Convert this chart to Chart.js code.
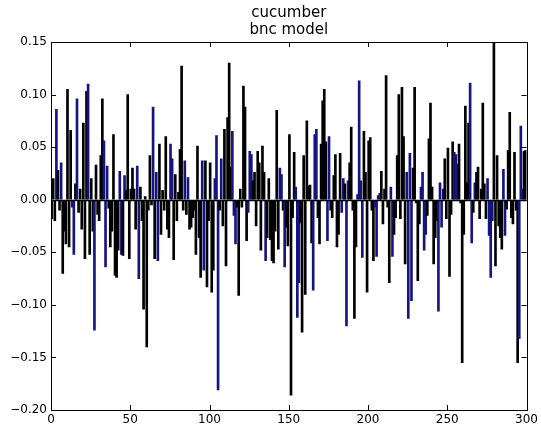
<!DOCTYPE html>
<html>
<head>
<meta charset="utf-8">
<script src="https://cdn.jsdelivr.net/npm/chart.js@4"></script>
<style>
  body { margin: 0; background: #fff; }
  canvas { display: block; }
</style>
</head>
<body>
<canvas id="chart-canvas" width="541" height="427"></canvas>
<script>
// bar values, one per index 0..299
var values = [
  -0.018, 0.02, -0.02, 0.086, 0.028, -0.01, 0.035, -0.07, -0.03, -0.042,
  0.105, -0.045, 0.066, -0.007, -0.052, 0.015, 0.096, -0.012, 0.01, -0.028,
  0.073, -0.056, 0.103, 0.11, -0.052, 0.02, -0.03, -0.124, 0.033, -0.014,
  -0.02, 0.042, 0.096, 0.056, -0.064, 0.032, -0.008, -0.045, -0.03, 0.062,
  -0.072, -0.074, -0.048, 0.027, -0.052, -0.053, 0.023, 0.009, 0.1, -0.056,
  0.01, 0.03, 0.01, -0.028, 0.032, -0.075, 0.012, -0.02, -0.104, 0.003,
  -0.14, -0.01, 0.042, -0.005, 0.088, -0.056, 0.026, -0.058, 0.053, -0.033,
  0.009, -0.01, 0.06, -0.028, -0.036, 0.053, 0.039, -0.057, 0.024, -0.02,
  0.007, 0.048, 0.127, -0.01, 0.037, -0.014, 0.021, -0.028, -0.026, -0.017,
  -0.01, -0.052, 0.051, -0.036, -0.074, 0.037, -0.067, 0.037, -0.083, -0.02,
  0.035, -0.088, -0.067, 0.02, 0.061, -0.181, -0.01, 0.039, -0.025, 0.067,
  -0.063, 0.078, 0.13, 0.031, 0.065, -0.015, -0.042, -0.007, -0.091, 0.01,
  -0.007, 0.108, 0.088, -0.039, -0.012, 0.046, 0.043, 0.018, 0.026, -0.025,
  0.046, 0.035, -0.048, 0.051, 0.026, -0.058, -0.036, 0.02, -0.038, -0.058,
  -0.06, -0.03, 0.085, -0.047, 0.03, 0.024, -0.01, -0.064, -0.026, -0.044,
  0.062, -0.186, -0.017, 0.045, 0.012, -0.112, -0.079, -0.022, -0.126, 0.042,
  -0.09, 0.075, 0.013, 0.014, -0.041, -0.086, 0.062, 0.067, -0.017, -0.042,
  0.053, 0.094, 0.105, 0.055, -0.039, 0.06, -0.01, -0.017, 0.023, 0.043,
  -0.045, -0.033, 0.044, -0.012, 0.02, 0.015, -0.12, 0.018, 0.035, 0.069,
  -0.01, -0.113, -0.045, 0.005, 0.113, 0.018, -0.055, 0.065, 0.026, -0.088,
  0.056, 0.059, -0.01, -0.058, -0.007, -0.054, 0.004, 0.006, 0.027, -0.023,
  0.01, 0.118, -0.007, -0.079, 0.012, -0.054, -0.033, -0.017, 0.042, 0.1,
  -0.018, 0.107, 0.06, -0.061, 0.026, -0.113, 0.044, -0.096, 0.03, 0.107,
  -0.003, -0.077, -0.023, 0.012, 0.026, -0.048, -0.033, -0.015, 0.058, 0.092,
  0.012, -0.061, -0.036, -0.02, -0.106, 0.016, -0.026, 0.01, 0.039, -0.018,
  0.049, -0.073, -0.014, 0.055, 0.045, 0.043, 0.034, 0.053, -0.003, -0.155,
  -0.033, 0.089, 0.016, 0.073, 0.111, -0.041, -0.012, 0.016, 0.026, 0.031,
  -0.018, 0.01, 0.092, 0.015, -0.018, 0.02, -0.034, -0.074, -0.02, 0.16,
  -0.063, 0.042, -0.025, -0.036, -0.047, 0.029, -0.034, -0.009, 0.047, 0.083,
  -0.017, -0.023, 0.045, -0.01, -0.155, -0.132, 0.07, 0.01, 0.046, 0.047
];

// indices drawn in blue in the reference
var blueIndex = [3, 6, 13, 14, 16, 23, 27, 33, 34, 35, 43, 44, 46, 54, 55, 64, 66, 67,
  75, 76, 84, 86, 95, 96, 103, 104, 105, 107, 114, 115, 116, 124, 125, 126, 135,
  144, 145, 147, 154, 155, 156, 165, 166, 167, 174, 175, 183, 184, 186, 187,
  193, 194, 195, 196, 204, 205, 206, 207, 214, 215, 224, 225, 226, 227,
  233, 234, 235, 236, 244, 245, 246, 247, 254, 255, 256, 264, 265, 267,
  275, 276, 277, 278, 285, 286, 295, 296, 297];

var titleLines = ["cucumber", "bnc model"];
var yTicks = [-0.20, -0.15, -0.10, -0.05, 0.00, 0.05, 0.10, 0.15];
var xTicks = [0, 50, 100, 150, 200, 250, 300];

var FONT = "'DejaVu Sans', sans-serif";

// matplotlib style frame: box on all sides, ticks pointing inward, zero line
var framePlugin = {
  id: 'frame',
  afterDatasetsDraw: function(chart) {
    var ctx = chart.ctx, a = chart.chartArea;
    var xs = chart.scales.x, ys = chart.scales.y;
    ctx.save();
    ctx.strokeStyle = '#000';
    ctx.lineWidth = 1.5;
    var y0 = Math.round(ys.getPixelForValue(0)) + 0.5;
    ctx.beginPath();
    ctx.moveTo(a.left, y0);
    ctx.lineTo(a.right, y0);
    ctx.stroke();

    ctx.lineWidth = 1;
    ctx.beginPath();
    yTicks.forEach(function(t) {
      var y = Math.round(ys.getPixelForValue(t)) + 0.5;
      ctx.moveTo(a.left, y); ctx.lineTo(a.left + 5, y);
      ctx.moveTo(a.right, y); ctx.lineTo(a.right - 5, y);
    });
    xTicks.forEach(function(t) {
      var x = Math.round(xs.getPixelForValue(t)) + 0.5;
      ctx.moveTo(x, a.bottom); ctx.lineTo(x, a.bottom - 5);
      ctx.moveTo(x, a.top); ctx.lineTo(x, a.top + 5);
    });
    ctx.stroke();
    ctx.strokeRect(Math.round(a.left) + 0.5, Math.round(a.top) + 0.5,
      Math.round(a.right - a.left), Math.round(a.bottom - a.top));

    // title centred over the plot area
    ctx.fillStyle = '#000';
    ctx.font = '15px ' + FONT;
    ctx.textAlign = 'center';
    ctx.textBaseline = 'middle';
    var cx = (a.left + a.right) / 2;
    ctx.fillText(titleLines[0], cx, 13);
    ctx.fillText(titleLines[1], cx, 30);
    ctx.restore();
  }
};

var points = values.map(function(v, i) { return { x: i + 0.4, y: v }; });
var colors = values.map(function(v, i) {
  return blueIndex.indexOf(i) >= 0 ? '#151580' : '#000000';
});

var chart = new Chart(document.getElementById('chart-canvas'), {
  type: 'bar',
  data: {
    datasets: [{
      data: points,
      backgroundColor: colors,
      borderWidth: 0,
      barThickness: 2
    }]
  },
  options: {
    responsive: false,
    animation: false,
    devicePixelRatio: 1,
    layout: { padding: { top: 42, right: 13, left: 0, bottom: 0 } },
    plugins: {
      legend: { display: false },
      tooltip: { enabled: false },
      title: { display: false }
    },
    scales: {
      x: {
        type: 'linear',
        min: 0,
        max: 300,
        offset: false,
        afterFit: function(s) { s.height = 17; },
        afterBuildTicks: function(s) {
          s.ticks = xTicks.map(function(v) { return { value: v }; });
        },
        ticks: {
          color: '#000',
          font: { family: FONT, size: 12 },
          padding: 3,
          maxRotation: 0,
          autoSkip: false
        },
        grid: { drawOnChartArea: false, drawTicks: false },
        border: { color: '#000', width: 1 }
      },
      y: {
        min: -0.2,
        max: 0.15,
        afterFit: function(s) { s.width = 51; },
        afterBuildTicks: function(s) {
          s.ticks = yTicks.map(function(v) { return { value: v }; });
        },
        ticks: {
          color: '#000',
          font: { family: FONT, size: 12 },
          padding: 4,
          callback: function(v) {
            var t = Math.abs(v).toFixed(2);
            return (v < -1e-9 ? '\u2212' : '') + t;
          }
        },
        grid: { drawOnChartArea: false, drawTicks: false },
        border: { color: '#000', width: 1 }
      }
    }
  },
  plugins: [framePlugin]
});
</script>
</body>
</html>
